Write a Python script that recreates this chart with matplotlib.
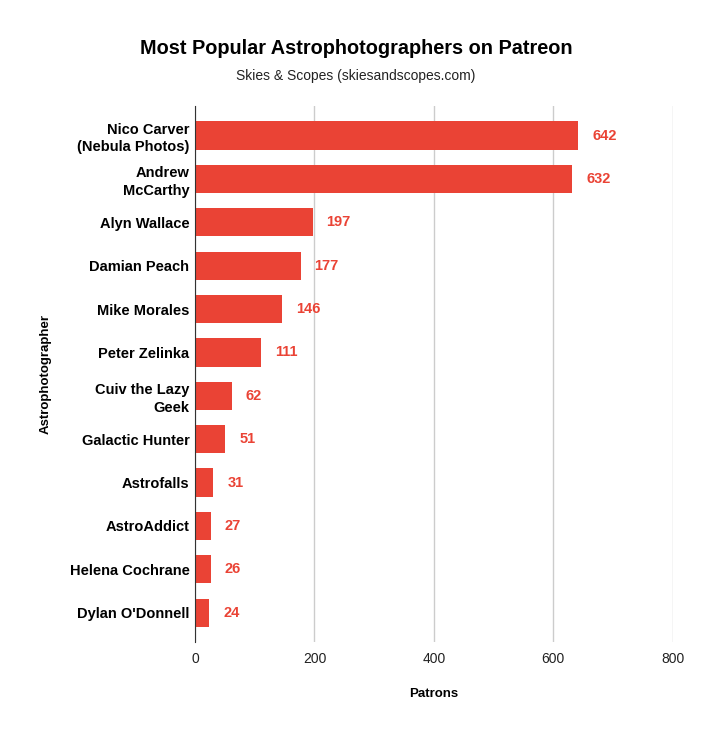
import matplotlib.pyplot as plt

plt.rcParams["font.family"] = ["Liberation Sans", "DejaVu Sans"]

names = [
    "Nico Carver\n(Nebula Photos)",
    "Andrew\nMcCarthy",
    "Alyn Wallace",
    "Damian Peach",
    "Mike Morales",
    "Peter Zelinka",
    "Cuiv the Lazy\nGeek",
    "Galactic Hunter",
    "Astrofalls",
    "AstroAddict",
    "Helena Cochrane",
    "Dylan O'Donnell",
]
patrons = [642, 632, 197, 177, 146, 111, 62, 51, 31, 27, 26, 24]
xticks = [0, 200, 400, 600, 800]

red = "#ea4335"

fig = plt.figure(figsize=(7.09, 7.30), dpi=100)
ax = fig.add_axes([0.275, 0.1205, 0.674, 0.734])

pos = list(range(len(names)))
ax.barh(pos, patrons, height=0.65, color=red, zorder=3)
for p, v in zip(pos, patrons):
    ax.annotate(str(v), (v, p), xytext=(10, 0), textcoords="offset points",
                va="center", ha="left", color=red, fontsize=10.5, fontweight="bold")

ax.set_xlim(0, 800)
ax.set_ylim(len(names) - 0.325, -0.675)
ax.set_xticks(xticks)
ax.set_xticklabels([str(t) for t in xticks], fontsize=10, color="#222222")
ax.set_yticks(pos)
ax.set_yticklabels(names, fontsize=10.5, fontweight="bold", linespacing=1.3)
ax.tick_params(axis="both", length=0)
ax.tick_params(axis="x", pad=7)
ax.tick_params(axis="y", pad=4)
ax.grid(axis="x", color="#cccccc", linewidth=1, zorder=0)
for s in ["top", "right", "bottom"]:
    ax.spines[s].set_visible(False)
ax.spines["left"].set_color("#333333")
ax.spines["left"].set_zorder(4)

ax.set_xlabel("Patrons", fontsize=9.5, fontweight="bold")
ax.xaxis.set_label_coords(0.5, -0.085)
ax.set_ylabel("Astrophotographer", fontsize=9.5, fontweight="bold")
ax.yaxis.set_label_coords(-0.30, 0.5)

fig.text(0.502, 0.933, "Most Popular Astrophotographers on Patreon",
         ha="center", va="center", fontsize=14.3, fontweight="bold")
fig.text(0.502, 0.896, "Skies & Scopes (skiesandscopes.com)",
         ha="center", va="center", fontsize=10, color="#222222")

fig.savefig("out.png", dpi=100)
